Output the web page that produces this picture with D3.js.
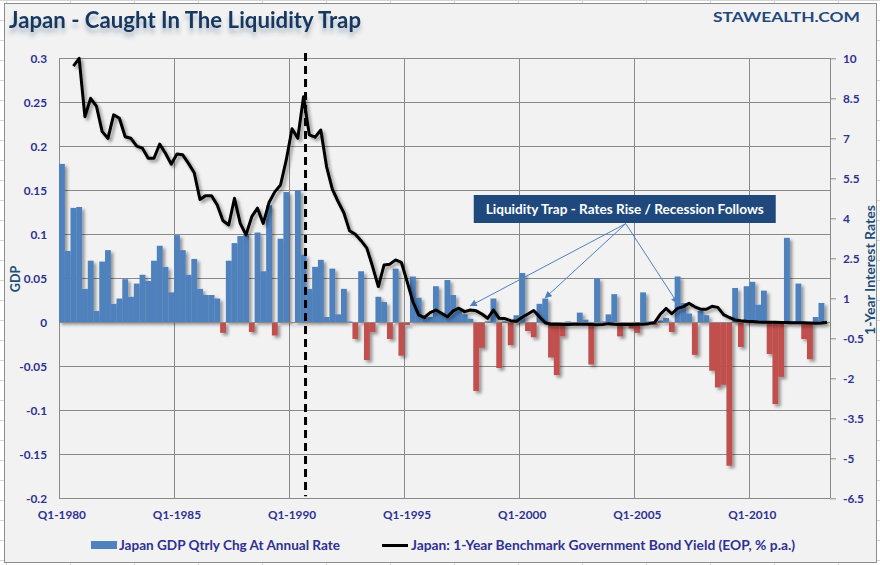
<!DOCTYPE html>
<html><head><meta charset="utf-8">
<script src="https://cdn.jsdelivr.net/npm/d3@7"></script>
<style>
body{margin:0;background:#fff}
svg{display:block}
text{font-family:Lato,"Open Sans",sans-serif}
</style>
</head><body>
<svg id="c" width="880" height="565"></svg>
<script>
// ---------------- DATA ----------------
const startYear = 1980;
const nQuarters = 134;
const categories = [];
for (let i = 0; i < nQuarters; i++) categories.push("Q" + (i % 4 + 1) + "-" + (startYear + Math.floor(i / 4)));

const gdpChange = [0.180,0.081,0.130,0.131,0.038,0.070,0.013,0.069,0.082,0.021,
 0.027,0.049,0.029,0.044,0.054,0.047,0.070,0.087,0.063,0.034,
 0.099,0.082,0.054,0.072,0.038,0.031,0.031,0.027,-0.012,0.070,
 0.090,0.098,0.099,-0.011,0.102,0.058,0.133,-0.015,0.095,0.148,
 -0.001,0.150,0.077,0.038,0.063,0.071,0.006,0.061,0.009,0.038,
 0.001,-0.019,0.058,-0.043,-0.011,0.029,0.023,-0.019,0.061,-0.038,
 -0.003,0.052,0.028,0.005,0.006,0.041,0.010,0.048,0.031,0.014,
 0.009,0.004,-0.078,-0.029,0.001,0.027,-0.052,0.001,-0.026,0.008,
 0.056,-0.010,-0.017,0.021,0.027,-0.040,-0.060,-0.016,0.001,-0.001,
 0.011,0.003,-0.048,0.050,0.001,0.009,0.032,-0.016,-0.002,-0.007,
 -0.012,0.034,0.001,-0.003,0.002,0.005,-0.011,0.052,0.022,0.010,
 -0.037,0.013,0.008,-0.055,-0.074,-0.071,-0.163,0.039,-0.028,0.041,
 0.046,0.020,0.036,-0.036,-0.093,-0.062,0.096,0.001,0.044,-0.019,
 -0.042,0.006,0.022,0.000];

const bondYield = [null,null,9.71,10.0,7.81,8.5,8.21,7.25,7.0,7.88,
 7.75,7.06,7.0,6.71,6.63,6.25,6.25,6.78,6.44,6.03,
 6.41,6.38,6.06,5.71,4.71,4.85,4.85,4.5,3.91,3.75,
 4.75,3.81,3.38,4.06,4.38,3.81,4.59,4.99,5.25,6.19,
 7.36,7.0,8.56,7.13,7.04,7.31,5.94,5.09,4.63,4.21,
 3.53,3.4,3.16,2.88,2.19,1.44,2.25,2.28,2.44,2.35,
 1.63,0.88,0.38,0.28,0.46,0.56,0.44,0.31,0.53,0.63,
 0.5,0.56,0.53,0.41,0.25,0.56,0.25,0.24,0.16,0.14,
 0.29,0.41,0.54,0.31,0.08,0.03,0.03,0.02,0.02,0.03,
 0.03,0.03,0.02,0.01,0.02,0.05,0.03,0.02,0.02,0.02,
 0.03,0.03,0.05,0.09,0.4,0.62,0.42,0.62,0.69,0.81,
 0.68,0.59,0.59,0.7,0.66,0.39,0.28,0.19,0.16,0.14,
 0.13,0.11,0.1,0.1,0.1,0.09,0.09,0.08,0.08,0.08,
 0.07,0.06,0.07,0.1];

const leftTicks = [0.3,0.25,0.2,0.15,0.1,0.05,0,-0.05,-0.1,-0.15,-0.2];
const rightTicks = [10,8.5,7,5.5,4,2.5,1,-0.5,-2,-3.5,-5,-6.5];
const xTickLabels = ["Q1-1980","Q1-1985","Q1-1990","Q1-1995","Q1-2000","Q1-2005","Q1-2010"];
const markerCategory = "Q3-1990";
const annotationText = "Liquidity Trap - Rates Rise / Recession Follows";
const annotationOrigin = {cat:"Q3-2004", val:3.8};
const annotationTargets = [{cat:"Q4-1997", val:0.72},{cat:"Q1-2001", val:1.02},{cat:"Q4-2006", val:0.82}];

// ---------------- LAYOUT ----------------
const svg = d3.select("#c");
const L = 59, R = 830, T = 58.3, B = 498.3;
const x = d3.scaleBand().domain(categories).range([L, R]).padding(0);
const yL = d3.scaleLinear().domain([-0.2, 0.3]).range([B, T]);
const yR = d3.scaleLinear().domain([-6.5, 10]).range([B, T]);
const cx = c => x(c) + x.bandwidth() / 2;

const defs = svg.append("defs");
const sh = defs.append("filter").attr("id","shadow").attr("x","-20%").attr("y","-20%").attr("width","140%").attr("height","140%");
sh.append("feDropShadow").attr("dx",2.5).attr("dy",2.5).attr("stdDeviation",1.6).attr("flood-color","#000").attr("flood-opacity",0.38);
const tsh = defs.append("filter").attr("id","tshadow").attr("x","-10%").attr("y","-30%").attr("width","120%").attr("height","190%");
tsh.append("feDropShadow").attr("dx",0).attr("dy",5).attr("stdDeviation",2).attr("flood-color","#17375E").attr("flood-opacity",0.3);
defs.append("marker").attr("id","arr").attr("viewBox","0 0 10 10").attr("refX",9).attr("refY",5)
  .attr("markerWidth",8).attr("markerHeight",7).attr("markerUnits","userSpaceOnUse").attr("orient","auto")
  .append("path").attr("d","M0,0 L10,5 L0,10 z").attr("fill","#4F81BD");

// spreadsheet backdrop
svg.append("rect").attr("width",880).attr("height",565).attr("fill","#fff");
const sheet = svg.append("g").attr("stroke","#D4D4D4").attr("stroke-width",1);
for (let yy = 0.5; yy < 565; yy += 20) sheet.append("line").attr("x1",0).attr("x2",880).attr("y1",yy).attr("y2",yy);
for (let xx = 6.5; xx < 880; xx += 64) sheet.append("line").attr("x1",xx).attr("x2",xx).attr("y1",0).attr("y2",565);

// chart area
svg.append("rect").attr("x",4.5).attr("y",3.5).attr("width",872).attr("height",559)
  .attr("fill","#F2F2F2").attr("stroke","#8C8C8C");

// gridlines
const grid = svg.append("g").attr("stroke","#8A8A8A").attr("stroke-width",1).attr("shape-rendering","crispEdges");
grid.selectAll(".h").data(leftTicks).join("line").attr("x1",L).attr("x2",R)
  .attr("y1",d=>yL(d)).attr("y2",d=>yL(d));
grid.selectAll(".v").data(xTickLabels).join("line").attr("x1",d=>x(d)).attr("x2",d=>x(d))
  .attr("y1",T).attr("y2",B);
grid.append("line").attr("x1",L).attr("x2",L).attr("y1",T).attr("y2",B);
grid.append("line").attr("x1",R).attr("x2",R).attr("y1",T).attr("y2",B);

// bars
const data = categories.map((c,i)=>({c, g:gdpChange[i], r:bondYield[i]}));
svg.append("g").attr("filter","url(#shadow)").selectAll("rect").data(data).join("rect")
  .attr("x",d=>x(d.c)).attr("width",x.bandwidth()+0.1)
  .attr("y",d=>Math.min(yL(d.g), yL(0))).attr("height",d=>Math.abs(yL(d.g)-yL(0)))
  .attr("fill",d=>d.g>=0?"#4F81BD":"#C0504D");

// zero line
svg.append("line").attr("x1",L).attr("x2",R).attr("y1",yL(0)).attr("y2",yL(0))
  .attr("stroke","#8A8A8A").attr("shape-rendering","crispEdges");

// dashed marker
svg.append("line").attr("x1",cx(markerCategory)+2).attr("x2",cx(markerCategory)+2)
  .attr("y1",53).attr("y2",B-2).attr("stroke","#000").attr("stroke-width",3).attr("stroke-dasharray","8,5");

// yield line
const line = d3.line().defined(d=>d.r!=null).x(d=>cx(d.c)).y(d=>yR(d.r));
svg.append("path").datum(data).attr("d",line).attr("fill","none").attr("stroke","#000")
  .attr("stroke-width",3).attr("stroke-linejoin","round").attr("filter","url(#shadow)");

// axes
const tickColor = "#2E3192";
const ax1 = svg.append("g").attr("transform",`translate(${L},0)`)
  .call(d3.axisLeft(yL).tickValues(leftTicks).tickFormat(d=>String(d)).tickSize(0).tickPadding(12));
const ax2 = svg.append("g").attr("transform",`translate(${R},0)`)
  .call(d3.axisRight(yR).tickValues(rightTicks).tickFormat(d=>String(d)).tickSize(6).tickPadding(7));
const ax3 = svg.append("g").attr("transform",`translate(0,${B})`)
  .call(d3.axisBottom(x).tickValues(xTickLabels).tickSize(0).tickPadding(12));
[ax1,ax2,ax3].forEach(a=>{
  a.select(".domain").remove();
  a.selectAll("text").attr("fill",tickColor).attr("font-weight","bold").attr("font-size","11.8px")
    .attr("font-family","Lato, 'Open Sans', sans-serif");
  a.selectAll("line").attr("stroke","#8A8A8A");
});

// axis titles
svg.append("text").attr("transform","translate(20,279) rotate(-90)").attr("text-anchor","middle")
  .attr("fill","#1F4E79").attr("font-weight","bold").attr("font-size","12.5px").text("GDP");
svg.append("text").attr("transform","translate(875,270) rotate(-90)").attr("text-anchor","middle")
  .attr("fill","#1F4E79").attr("font-weight","bold").attr("font-size","12.5px")
  .attr("textLength",130).attr("lengthAdjust","spacingAndGlyphs").text("1-Year Interest Rates");

// title
svg.append("text").attr("x",9).attr("y",28).attr("fill","#17375E").attr("font-weight","bold")
  .attr("font-size","22px").attr("textLength",352).attr("lengthAdjust","spacingAndGlyphs")
  .attr("filter","url(#tshadow)").text("Japan - Caught In The Liquidity Trap");
svg.append("text").attr("x",860).attr("y",22).attr("text-anchor","end").attr("fill","#1F497D")
  .attr("font-weight","bold").attr("font-size","13.5px").attr("textLength",147).attr("lengthAdjust","spacingAndGlyphs")
  .text("STAWEALTH.COM");

// annotation
const ox = cx(annotationOrigin.cat), oy = yR(annotationOrigin.val);
svg.append("g").selectAll("line").data(annotationTargets).join("line")
  .attr("x1",ox).attr("y1",oy).attr("x2",d=>cx(d.cat)).attr("y2",d=>yR(d.val))
  .attr("stroke","#4F81BD").attr("stroke-width",1).attr("marker-end","url(#arr)");
const boxW = 302, boxH = 28, bcx = ox - 1, bcy = 209;
svg.append("rect").attr("x",bcx-boxW/2).attr("y",bcy-boxH/2).attr("width",boxW).attr("height",boxH).attr("fill","#1F497D");
svg.append("text").attr("x",bcx).attr("y",bcy+4.5).attr("text-anchor","middle").attr("fill","#fff")
  .attr("font-weight","bold").attr("font-size","13px").attr("textLength",278).attr("lengthAdjust","spacingAndGlyphs")
  .text(annotationText);

// legend
const lg = svg.append("g");
lg.append("rect").attr("x",91).attr("y",541).attr("width",26).attr("height",8).attr("fill","#4F81BD");
lg.append("text").attr("x",119).attr("y",549.5).attr("fill",tickColor).attr("font-weight","bold").attr("font-size","12.5px")
  .attr("textLength",221).attr("lengthAdjust","spacingAndGlyphs").text("Japan GDP Qtrly Chg At Annual Rate");
lg.append("line").attr("x1",382).attr("x2",408).attr("y1",545.5).attr("y2",545.5).attr("stroke","#000").attr("stroke-width",3);
lg.append("text").attr("x",411).attr("y",549.5).attr("fill",tickColor).attr("font-weight","bold").attr("font-size","12.5px")
  .attr("textLength",384).attr("lengthAdjust","spacingAndGlyphs").text("Japan: 1-Year Benchmark Government Bond Yield (EOP, % p.a.)");
</script>
</body></html>
